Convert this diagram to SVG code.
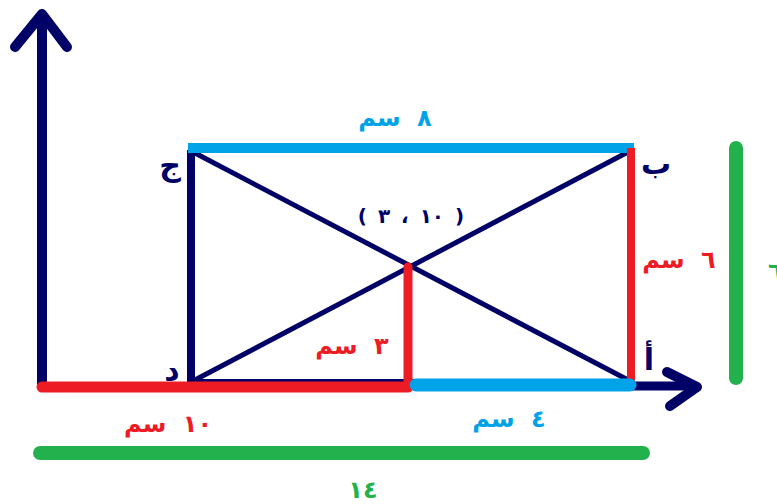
<svg xmlns="http://www.w3.org/2000/svg" width="777" height="504" viewBox="0 0 777 504">
<style>
.nv{stroke:#000066;fill:none}
.rd{stroke:#ed1c24;fill:none}
.bl{stroke:#00a2e8;fill:none}
.gr{stroke:#22b14c;fill:none;stroke-linecap:round}
text{font-family:"DejaVu Sans","Noto Sans",sans-serif;font-weight:bold;direction:rtl;text-anchor:middle;word-spacing:8px}
.tr{fill:#ed1c24;font-size:24px}
.tb{fill:#00a2e8;font-size:24px}
.tg{fill:#22b14c;font-size:24px}
.tn{fill:#000066;font-size:30px}
</style>
<rect width="777" height="504" fill="#fff"/>
<g id="axes">
<line class="nv" x1="42" y1="388" x2="42" y2="12" stroke-width="10"/>
<polyline class="nv" points="15,47 42,14 67,47" stroke-width="10" stroke-linecap="round" stroke-linejoin="round"/>
<line class="nv" x1="630" y1="386" x2="696" y2="386" stroke-width="9"/>
<polyline class="nv" points="667,372 697,387 670,406" stroke-width="10" stroke-linecap="round" stroke-linejoin="round"/>
</g>
<g id="connectors">
<line class="nv" x1="191" y1="381" x2="630" y2="381" stroke-width="4"/>
<line class="nv" x1="191" y1="150" x2="191" y2="384" stroke-width="8"/>
<line class="nv" x1="193" y1="152" x2="630" y2="381" stroke-width="5"/>
<line class="nv" x1="193" y1="381" x2="628" y2="152" stroke-width="5"/>
<line class="bl" x1="188" y1="148" x2="634" y2="148" stroke-width="10"/>
<line class="rd" x1="631" y1="148" x2="631" y2="386" stroke-width="8"/>
<line class="rd" x1="408" y1="267" x2="408" y2="387" stroke-width="9" stroke-linecap="round"/>
<line class="rd" x1="42" y1="387" x2="408" y2="387" stroke-width="11" stroke-linecap="round"/>
<line class="bl" x1="416" y1="385" x2="630" y2="385" stroke-width="13" stroke-linecap="round"/>
<line class="gr" x1="40" y1="453" x2="643" y2="453" stroke-width="14"/>
<line class="gr" x1="736" y1="148" x2="736" y2="378" stroke-width="14"/>
</g>
<g id="labels">
<text class="tn" x="170" y="176">ج</text>
<text class="tn" x="656" y="174">ب</text>
<text class="tn" x="649" y="370">أ</text>
<text class="tn" x="172" y="380">د</text>
<text class="tb" x="395" y="126">٨ سم</text>
<text x="411" y="223" fill="#000066" style="font-size:20px;word-spacing:4px;letter-spacing:2px">( ١٠ ، ٣ )</text>
<text class="tr" x="679" y="268">٦ سم</text>
<text class="tr" x="352" y="354">٣ سم</text>
<text class="tr" x="168" y="432">١٠ سم</text>
<text class="tb" x="509" y="427">٤ سم</text>
<text class="tg" x="363" y="498">١٤</text>
<text class="tg" x="768" y="280" style="text-anchor:end">٦</text>
</g>
</svg>
